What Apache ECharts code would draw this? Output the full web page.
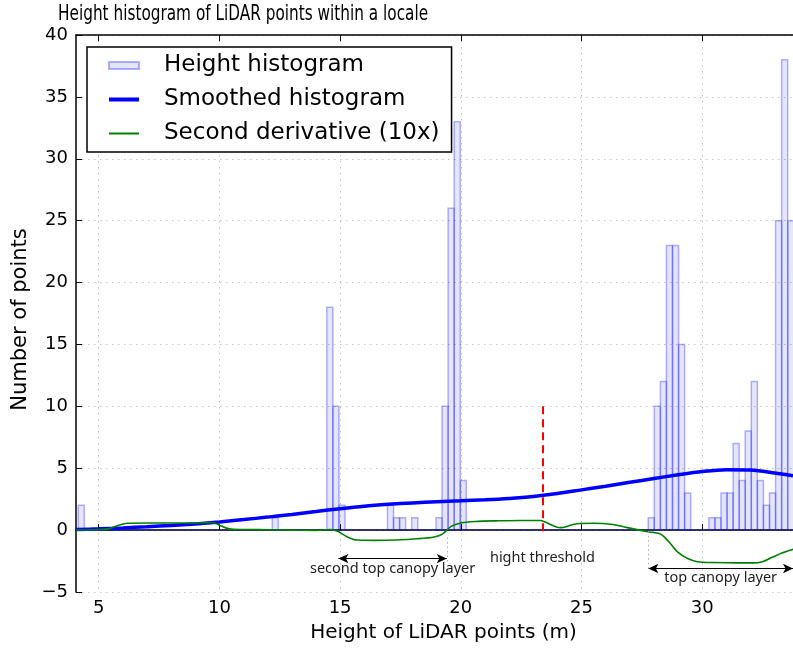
<!DOCTYPE html>
<html>
<head>
<meta charset="utf-8">
<title>Height histogram of LiDAR points within a locale</title>
<script src="https://cdn.jsdelivr.net/npm/echarts@6.0.0/dist/echarts.min.js"></script>
<style>
  html, body { margin: 0; padding: 0; background: #fff; }
  #chart { width: 793px; height: 648px; }
</style>
</head>
<body>
<div id="chart"></div>
<script>
// histogram: first bin edge, bin width (m), counts per bin
var binStart = 4.15;
var binWidth = 0.2512;
var binCounts = [
  2, 0, 0, 0, 0, 0, 0, 0, 0, 0, 0, 0, 0, 0, 0, 0, 0, 0, 0, 0,
  0, 0, 0, 0, 0, 0, 0, 0, 0, 0, 0, 0, 1, 0, 0, 0, 0, 0, 0, 0,
  0, 18, 10, 2, 0, 0, 0, 0, 0, 0, 0, 2, 1, 1, 0, 1, 0, 0, 0, 1,
  10, 26, 33, 4, 0, 0, 0, 0, 0, 0, 0, 0, 0, 0, 0, 0, 0, 0, 0, 0,
  0, 0, 0, 0, 0, 0, 0, 0, 0, 0, 0, 0, 0, 0, 1, 10, 12, 23, 23, 15,
  3, 0, 0, 0, 1, 1, 3, 3, 7, 4, 8, 12, 4, 2, 3, 25, 38, 25
];

// smoothed histogram
var smoothX = [4.06, 5, 6, 7, 8, 9, 10, 11, 12, 13, 14, 15, 16, 17, 18, 19, 20, 21, 22, 23, 24, 25, 26, 27, 28, 29, 30, 31, 32, 33, 33.76];
var smoothY = [0.05, 0.1, 0.18, 0.27, 0.38, 0.5, 0.66, 0.85, 1.05, 1.27, 1.5, 1.73, 1.93, 2.08, 2.2, 2.3, 2.37, 2.45, 2.56, 2.72, 2.95, 3.25, 3.55, 3.86, 4.17, 4.47, 4.73, 4.88, 4.85, 4.62, 4.4];

// second derivative (10x)
var derivX = [4.06, 5.0, 5.4, 5.8, 6.2, 7, 8, 9, 9.7, 10.0, 10.4, 11, 12, 13, 14.0, 14.6, 14.9, 15.3, 15.7, 16.5, 17.3, 18.2, 18.9, 19.25, 19.6, 20.0, 20.6, 21.5, 22.5, 23.3, 23.5, 23.9, 24.15, 24.4, 24.8, 25.5, 26.3, 26.9, 27.4, 27.8, 28.25, 28.6, 29.0, 29.4, 29.8, 30.5, 31.5, 32.1, 32.5, 32.9, 33.3, 33.76];
var derivY = [0.0, 0.05, 0.1, 0.38, 0.55, 0.57, 0.57, 0.58, 0.62, 0.4, 0.1, 0.05, 0.03, 0.0, -0.02, 0.05, -0.1, -0.55, -0.8, -0.83, -0.8, -0.7, -0.55, -0.3, 0.3, 0.58, 0.7, 0.75, 0.78, 0.78, 0.65, 0.3, 0.2, 0.3, 0.52, 0.55, 0.45, 0.2, 0.0, -0.15, -0.3, -0.9, -1.8, -2.3, -2.55, -2.62, -2.65, -2.65, -2.55, -2.2, -1.85, -1.55];

var xTicks = [5, 10, 15, 20, 25, 30];

// annotations
var thresholdX = 23.38;
var thresholdSpan = [10, -0.5];
var secondLayerSpan = [14.93, 19.42];
var secondLayerY = -2.3;
var topLayerSpan = [27.77, 33.76];
var topLayerY = -3.1;

var histData = binCounts.map(function (c, i) {
  return [binStart + i * binWidth, binStart + (i + 1) * binWidth, c];
});
var smoothData = smoothX.map(function (x, i) { return [x, smoothY[i]]; });
var derivData = derivX.map(function (x, i) { return [x, derivY[i]]; });

var myChart = echarts.init(document.getElementById('chart'));
var fontMain = 'DejaVu Sans';
var gridDots = { color: '#c4c4c4', width: 1, type: [1.5, 4.5] };
var noteText = { fontFamily: 'Noto Sans', fontSize: 14.5, color: '#222' };

var option = {
  animation: false,
  graphic: [
    {
      // title, drawn narrow like the original
      type: 'text', x: 58, y: 4, scaleX: 0.81,
      style: {
        text: 'Height histogram of LiDAR points within a locale',
        font: '21px "DejaVu Sans Condensed"', fill: '#000', verticalAlign: 'top'
      }
    }
  ],
  grid: { left: 76, top: 35, right: 0, bottom: 56 },
  legend: {
    orient: 'vertical', left: 87, top: 47,
    backgroundColor: '#fff', borderColor: '#000', borderWidth: 1.5, borderRadius: 0,
    padding: [7, 12, 7, 20], itemGap: 11, itemWidth: 30, itemHeight: 7,
    textStyle: { fontFamily: fontMain, fontSize: 23, color: '#000', padding: [0, 0, 0, 20] },
    data: [
      { name: 'Height histogram', icon: 'rect' },
      { name: 'Smoothed histogram', itemStyle: { opacity: 0 }, lineStyle: { width: 4, color: '#0000ff' } },
      { name: 'Second derivative (10x)', itemStyle: { opacity: 0 }, lineStyle: { width: 2, color: '#008000' } }
    ]
  },
  xAxis: [
    {
      type: 'value', min: 4.06, max: 33.76,
      name: 'Height of LiDAR points (m)', nameLocation: 'middle', nameGap: 31,
      nameTextStyle: { fontFamily: fontMain, fontSize: 20, color: '#000', padding: [0, 0, 0, 18] },
      axisLine: { show: true, lineStyle: { color: '#000', width: 1.5 } },
      axisTick: { show: true, inside: true, length: 6, customValues: xTicks, lineStyle: { color: '#000' } },
      axisLabel: { customValues: xTicks, fontFamily: fontMain, fontSize: 18, color: '#000', margin: 7 },
      splitLine: { show: true, lineStyle: gridDots }
    },
    {
      type: 'value', min: 4.06, max: 33.76, position: 'top',
      axisLine: { show: true, lineStyle: { color: '#000', width: 1.5 } },
      axisTick: { show: true, inside: true, length: 6, customValues: xTicks, lineStyle: { color: '#000' } },
      axisLabel: { show: false },
      splitLine: { show: false }
    }
  ],
  yAxis: {
    type: 'value', min: -5, max: 40, interval: 5,
    name: 'Number of points', nameLocation: 'middle', nameGap: 43,
    nameTextStyle: { fontFamily: fontMain, fontSize: 21, color: '#000', padding: [0, 12, 0, 0] },
    axisLine: { show: true, lineStyle: { color: '#000', width: 1.5 } },
    axisTick: { show: true, inside: true, length: 6, lineStyle: { color: '#000' } },
    axisLabel: {
      fontFamily: fontMain, fontSize: 18, color: '#000', margin: 8,
      formatter: function (v) { return String(v).replace('-', '\u2212'); }
    },
    splitLine: { show: true, lineStyle: gridDots }
  },
  series: [
    {
      name: 'Height histogram',
      type: 'custom',
      data: histData,
      encode: { x: [0, 1], y: 2 },
      itemStyle: { color: 'rgba(0,0,255,0.1)', borderColor: 'rgba(0,0,255,0.3)', borderWidth: 1.5 },
      z: 1,
      renderItem: function (params, api) {
        var p0 = api.coord([api.value(0), 0]);
        var p1 = api.coord([api.value(1), api.value(2)]);
        return {
          type: 'rect',
          shape: { x: p0[0], y: p1[1], width: p1[0] - p0[0], height: p0[1] - p1[1] },
          style: { fill: 'rgba(0,0,255,0.1)', stroke: 'rgba(0,0,255,0.3)', lineWidth: 1.5 }
        };
      }
    },
    {
      name: 'Smoothed histogram',
      type: 'line',
      data: smoothData,
      smooth: 0.3,
      symbol: 'none',
      lineStyle: { color: '#0000ff', width: 3.5 },
      itemStyle: { color: '#0000ff' },
      z: 3
    },
    {
      name: 'Second derivative (10x)',
      type: 'line',
      data: derivData,
      smooth: 0.3,
      symbol: 'none',
      lineStyle: { color: '#008000', width: 1.6 },
      itemStyle: { color: '#008000' },
      z: 4
    },
    {
      name: 'notes',
      type: 'line',
      data: [],
      silent: true,
      z: 5,
      markLine: {
        silent: true,
        animation: false,
        symbol: ['none', 'none'],
        data: [
          [
            { coord: [thresholdX, thresholdSpan[0]], lineStyle: { color: '#ff0000', width: 2, type: [8, 5] },
              label: Object.assign({ show: true, position: 'end', distance: 14, formatter: 'hight threshold' }, noteText) },
            { coord: [thresholdX, thresholdSpan[1]] }
          ],
          [
            { coord: [secondLayerSpan[0], secondLayerY], symbol: 'arrow', symbolSize: [7, 10],
              lineStyle: { color: '#000', width: 1, type: 'solid' },
              label: Object.assign({ show: true, position: 'insideMiddleBottom', distance: 3, formatter: 'second top canopy layer' }, noteText) },
            { coord: [secondLayerSpan[1], secondLayerY], symbol: 'arrow', symbolSize: [7, 10] }
          ],
          [
            { coord: [topLayerSpan[0], topLayerY], symbol: 'arrow', symbolSize: [7, 10],
              lineStyle: { color: '#000', width: 1, type: 'solid' },
              label: Object.assign({ show: true, position: 'insideMiddleBottom', distance: 2, formatter: 'top canopy layer' }, noteText) },
            { coord: [topLayerSpan[1], topLayerY], symbol: 'arrow', symbolSize: [7, 10] }
          ],
          [
            { coord: [secondLayerSpan[1], -0.6], lineStyle: { color: '#aaa', width: 1, type: [1.5, 3] }, label: { show: false } },
            { coord: [secondLayerSpan[1], -2.6] }
          ],
          [
            { coord: [topLayerSpan[0], 1], lineStyle: { color: '#aaa', width: 1, type: [1.5, 3] }, label: { show: false } },
            { coord: [topLayerSpan[0], -3.3] }
          ]
        ]
      }
    }
  ]
};

myChart.setOption(option);
window.addEventListener('resize', function () {
  myChart.resize();
});
</script>
</body>
</html>
